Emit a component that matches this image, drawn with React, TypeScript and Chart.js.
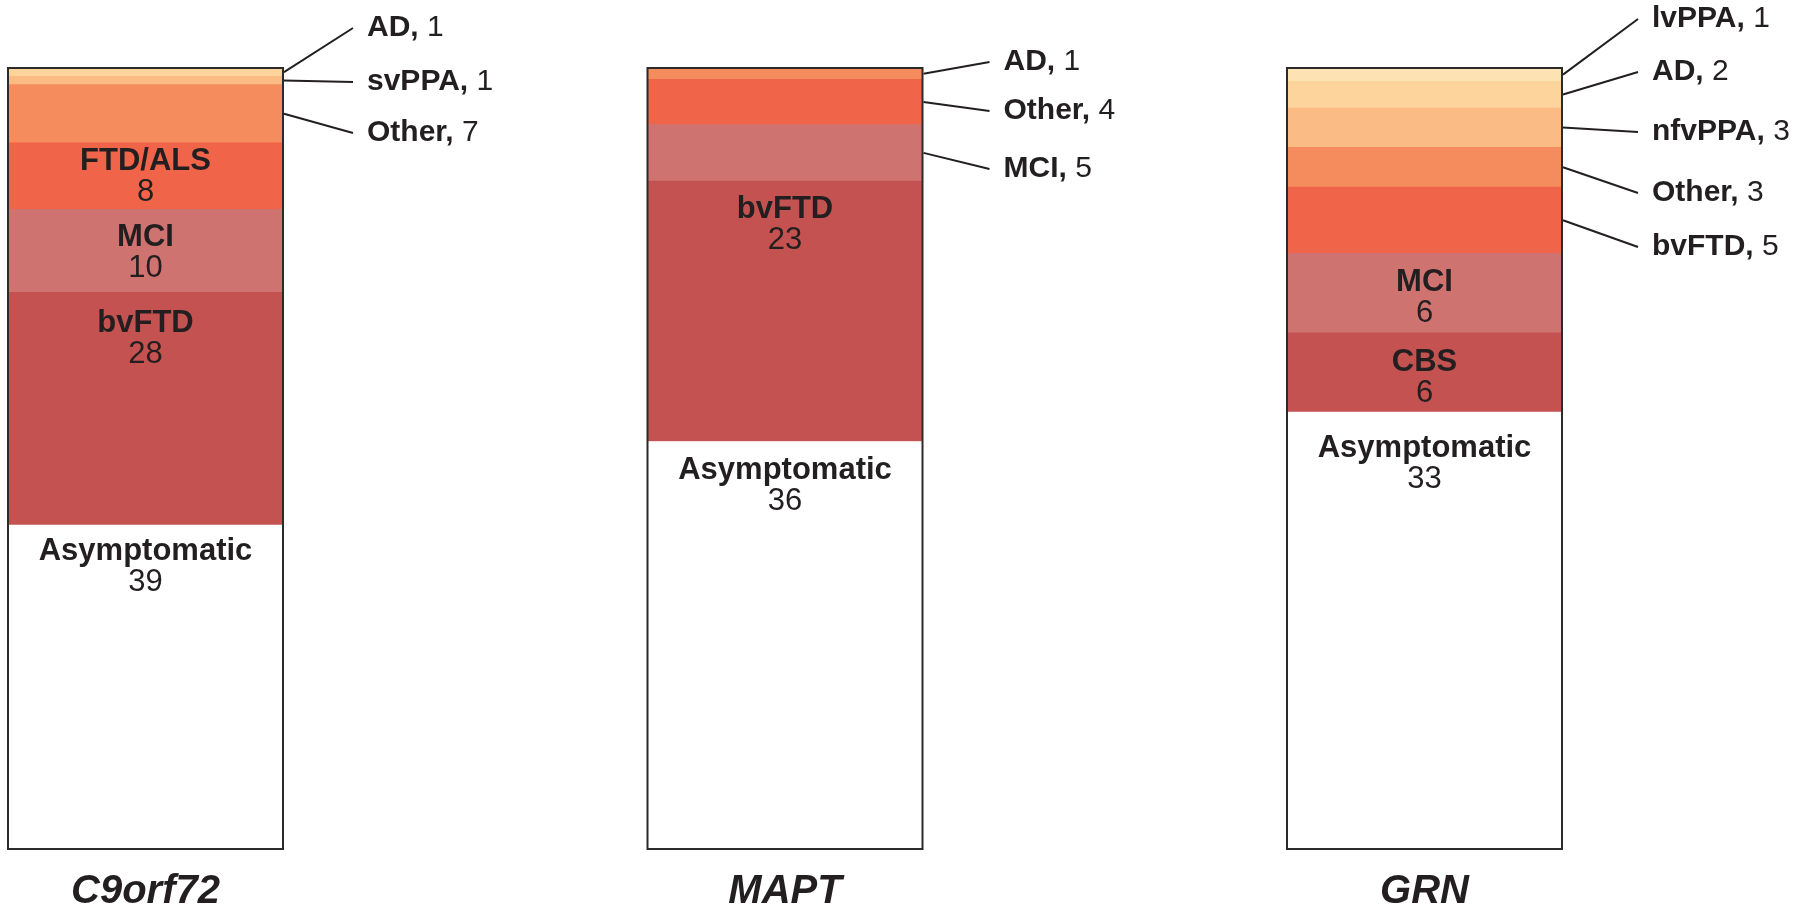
import React, { useEffect, useRef } from 'react';
import { Chart, registerables } from 'chart.js';

Chart.register(...registerables);

// ---------- data ----------
const genes = ['C9orf72', 'MAPT', 'GRN'];

// layers listed bottom -> top
const c9Diagnoses = ['Asymptomatic', 'bvFTD', 'MCI', 'FTD/ALS', 'Other', 'svPPA', 'AD'];
const c9Counts = [39, 28, 10, 8, 7, 1, 1];

const maptDiagnoses = ['Asymptomatic', 'bvFTD', 'MCI', 'Other', 'AD'];
const maptCounts = [36, 23, 5, 4, 1];

const grnDiagnoses = ['Asymptomatic', 'CBS', 'MCI', 'bvFTD', 'Other', 'nfvPPA', 'AD', 'lvPPA'];
const grnCounts = [33, 6, 6, 5, 3, 3, 2, 1];

const allDiagnoses = [c9Diagnoses, maptDiagnoses, grnDiagnoses];
const allCounts = [c9Counts, maptCounts, grnCounts];

// ---------- styles / layout ----------
const layerColors = ['#FFFFFF', '#C45250', '#CF7370', '#F0654A', '#F48C5E', '#FBBB85', '#FDD59C', '#FDE2B3'];
const FONT = "'Liberation Sans', Arial, Helvetica, sans-serif";
const TEXT = '#231F20';
// how many bottom layers are labelled inside the bar
const insideCount = [4, 2, 3];
// vertical offset of inside label name from segment top
const insideNameDy = [[26, 31, 28, 19], [29, 28], [36, 30, 29]];
// callout label line end y (pixels), for the callout layers, bottom -> top
const calloutEndY = [[133, 82, 28], [169, 111, 62], [247, 193, 132, 72, 19]];
const calloutDx = [70, 67, 76];

const sum = (a: number[]) => a.reduce((s, v) => s + v, 0);

const annotPlugin = {
  id: 'annot',
  afterDatasetsDraw(chart: any) {
    const ctx: CanvasRenderingContext2D = chart.ctx;
    ctx.save();
    allCounts.forEach((counts, i) => {
      const names = allDiagnoses[i];
      let top = Infinity;
      let bottom = -Infinity;
      let x = 0;
      let w = 0;
      const segs: { top: number; base: number }[] = [];
      counts.forEach((_, k) => {
        const el = chart.getDatasetMeta(k).data[i];
        const p = el.getProps(['x', 'y', 'base', 'width'], true);
        x = p.x;
        w = p.width;
        const t = Math.min(p.y, p.base);
        const b = Math.max(p.y, p.base);
        segs.push({ top: t, base: b });
        top = Math.min(top, t);
        bottom = Math.max(bottom, b);
      });
      const left = x - w / 2;
      const right = x + w / 2;

      // inside labels
      ctx.fillStyle = TEXT;
      ctx.textAlign = 'center';
      ctx.textBaseline = 'middle';
      for (let k = 0; k < insideCount[i]; k++) {
        const dy = insideNameDy[i][k];
        ctx.font = `bold 31px ${FONT}`;
        ctx.fillText(names[k], x, segs[k].top + dy);
        ctx.font = `31px ${FONT}`;
        ctx.fillText(String(counts[k]), x, segs[k].top + dy + 31);
      }

      // callouts
      ctx.textAlign = 'left';
      ctx.textBaseline = 'alphabetic';
      for (let k = insideCount[i]; k < counts.length; k++) {
        const c = k - insideCount[i];
        const cy = (segs[k].top + segs[k].base) / 2;
        const ex = right + calloutDx[i];
        const ey = calloutEndY[i][c];
        ctx.strokeStyle = TEXT;
        ctx.lineWidth = 2;
        ctx.beginPath();
        ctx.moveTo(right + 1, cy);
        ctx.lineTo(ex, ey);
        ctx.stroke();
        const tx = ex + 14;
        const ty = ey + 8;
        ctx.font = `bold 30px ${FONT}`;
        const nameTxt = names[k] + ',';
        ctx.fillText(nameTxt, tx, ty);
        const nw = ctx.measureText(nameTxt).width;
        ctx.font = `30px ${FONT}`;
        ctx.fillText(' ' + counts[k], tx + nw, ty);
      }

      // outline
      ctx.strokeStyle = '#2B2B2B';
      ctx.lineWidth = 2;
      ctx.strokeRect(left, top, w, bottom - top);
    });
    ctx.restore();
  },
};

export default function App() {
  const ref = useRef<HTMLCanvasElement>(null);
  useEffect(() => {
    if (!ref.current) return;
    const maxLayers = Math.max(...allCounts.map((c) => c.length));
    const datasets = Array.from({ length: maxLayers }, (_, k) => ({
      label: `layer ${k}`,
      data: allCounts.map((counts) => (k < counts.length ? (counts[k] / sum(counts)) * 100 : null)),
      backgroundColor: layerColors[k],
      borderWidth: 0,
      barThickness: 275,
      clip: false,
    }));
    const chart = new Chart(ref.current, {
      type: 'bar',
      data: { labels: genes, datasets },
      options: {
        responsive: false,
        animation: false,
        devicePixelRatio: 1,
        layout: { padding: { left: 145.5, right: 375.5, top: 68, bottom: 0 } },
        plugins: { legend: { display: false }, tooltip: { enabled: false } },
        scales: {
          x: {
            stacked: true,
            offset: false,
            grid: { display: false },
            border: { display: false },
            ticks: {
              color: TEXT,
              padding: 11,
              maxRotation: 0,
              font: { family: FONT, size: 40, weight: 'bold', style: 'italic' },
            },
            afterFit: (scale: any) => {
              scale.height = 58;
            },
          },
          y: { stacked: true, display: false, min: 0, max: 100 },
        },
      },
      plugins: [annotPlugin],
    } as any);
    return () => chart.destroy();
  }, []);
  return (
    <div style={{ position: 'absolute', left: 0, top: 0, width: 1800, height: 907, background: '#fff' }}>
      <canvas ref={ref} width={1800} height={907} />
    </div>
  );
}
